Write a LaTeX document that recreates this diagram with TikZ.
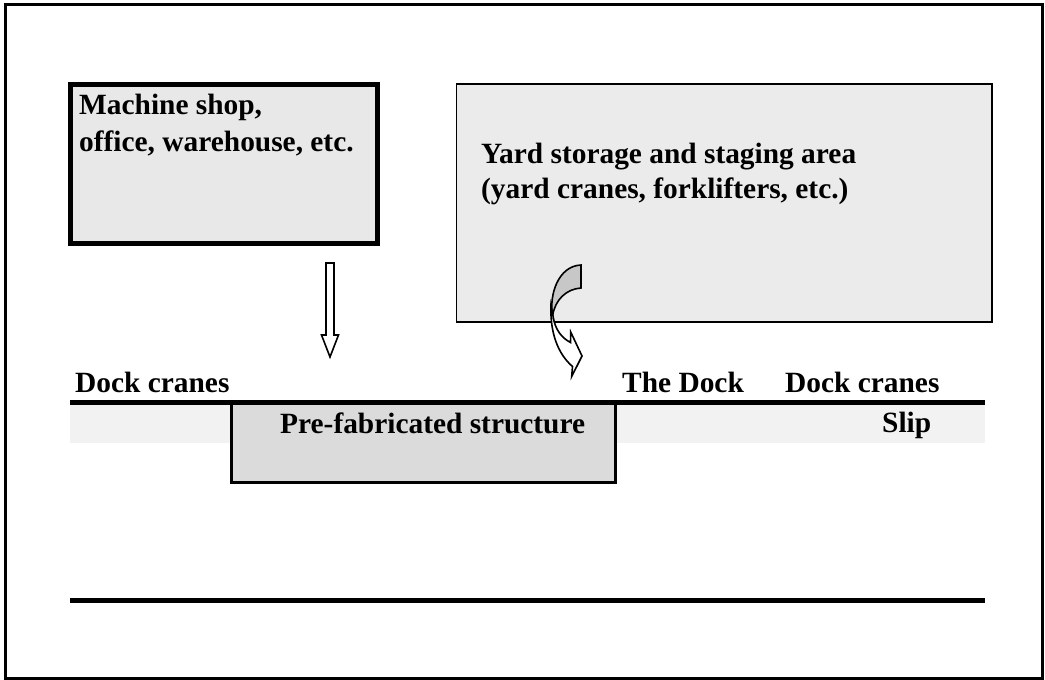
\documentclass[tikz,border=0pt]{standalone}
\usepackage{fontspec}
\setmainfont{Liberation Serif}
\begin{document}
\begin{tikzpicture}[x=1bp, y=-1bp,
  lbl/.style={anchor=base west, inner sep=0pt, font=\fontsize{29.5}{35}\selectfont\bfseries},
  arr/.style={draw=black, line width=1.6bp, line join=miter},
  heavy/.style={draw=black, line width=5bp},
]
\useasboundingbox (0,0) rectangle (1045,680);

% outer frame
\draw[line width=3bp] (5.5,4.5) rectangle (1042.5,678.5);

% buildings
\fill[black!9] (70.5,84.5) rectangle (377,243);
\draw[line width=5bp] (70.5,84.5) rectangle (377,243);
\node[lbl] (machA) at (79,115) {Machine shop,};
\node[lbl] (machB) at (79,152) {office, warehouse, etc.};

\fill[black!8] (456.5,84) rectangle (992,322);
\draw[line width=1.5bp] (456.5,84) rectangle (992,322);
\node[lbl] (yardA) at (481,164) {Yard storage and staging area};
\node[lbl] (yardB) at (481,199) {(yard cranes, forklifters, etc.)};

% slip water
\fill[black!5] (70,405) rectangle (985,443);

% prefabricated structure sitting in the slip
\fill[black!14] (231.5,402) rectangle (615.5,482);
\draw[line width=3bp] (231.5,402) -- (231.5,482) -- (615.5,482) -- (615.5,402);
\node[lbl] (prefab) at (280,433) {Pre-fabricated structure};
\node[lbl] (slip) at (882,432) {Slip};

% dock edges
\draw[heavy] (70,402) -- (985,402);
\draw[heavy] (70,600) -- (985,600);

\node[lbl] (cranesL) at (75,392) {Dock cranes};
\node[lbl] (dock) at (622,392) {The Dock};
\node[lbl] (cranesR) at (785,392) {Dock cranes};

% straight supply arrow
\draw[arr, fill=white] (326,263) -- (334,263) -- (334,335) -- (338.5,335)
  -- (330,357) -- (321.5,335) -- (326,335) -- cycle;

% curved supply arrow: back face
\draw[arr, fill=black!22] (581,265) -- (581,288)
  .. controls (566,289) and (555,300) .. (552.5,316)
  .. controls (549,295) and (558,266) .. (581,265) -- cycle;
% curved supply arrow: front face
\draw[arr, fill=white] (551,306)
  .. controls (550,333) and (558,354) .. (572.5,366.5)
  -- (571.7,376.5) -- (582,356) -- (570.7,332) -- (570.5,342.5)
  .. controls (562,338) and (555,330) .. (553,316) -- cycle;
\end{tikzpicture}
\end{document}
